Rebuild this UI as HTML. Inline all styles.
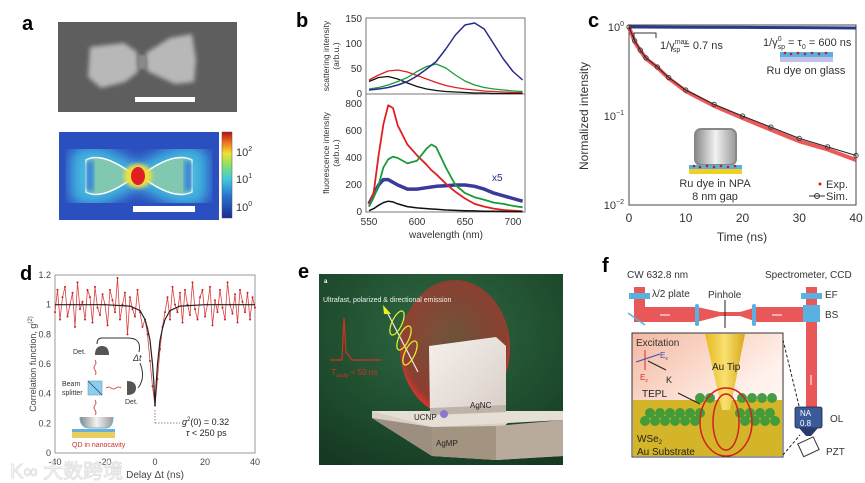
<!DOCTYPE html>
<html><head><meta charset="utf-8"><style>
html,body{margin:0;padding:0;background:#fff;}
svg{display:block;font-family:"Liberation Sans","Noto Sans CJK SC",sans-serif;}
</style></head><body>
<svg id="fig" width="865" height="483" viewBox="0 0 865 483" xmlns="http://www.w3.org/2000/svg">
<defs>
 <filter id="blur1"><feGaussianBlur stdDeviation="1.2"/></filter>
 <filter id="blur2"><feGaussianBlur stdDeviation="2"/></filter>
 <filter id="blur4"><feGaussianBlur stdDeviation="4"/></filter>
 <filter id="blur6"><feGaussianBlur stdDeviation="6"/></filter>
 <linearGradient id="cbar" x1="0" y1="1" x2="0" y2="0">
  <stop offset="0" stop-color="#1a2a90"/><stop offset="0.25" stop-color="#2a70d0"/><stop offset="0.45" stop-color="#40c8e0"/><stop offset="0.6" stop-color="#80e070"/><stop offset="0.75" stop-color="#f0e030"/><stop offset="0.88" stop-color="#f07020"/><stop offset="1" stop-color="#b01010"/>
 </linearGradient>
 <radialGradient id="egreen" cx="0.5" cy="0.3" r="0.8"><stop offset="0" stop-color="#2f6a42"/><stop offset="1" stop-color="#153a22"/></radialGradient>
 <radialGradient id="ered" cx="0.5" cy="0.45" r="0.55"><stop offset="0" stop-color="#e03030" stop-opacity="0.35"/><stop offset="0.85" stop-color="#e02a2a" stop-opacity="0.55"/><stop offset="1" stop-color="#ff3030" stop-opacity="0.9"/></radialGradient>
 <linearGradient id="cube" x1="0" y1="0" x2="1" y2="1"><stop offset="0" stop-color="#f6f0ec"/><stop offset="1" stop-color="#d8cec7"/></linearGradient>
 <linearGradient id="tip" x1="0" y1="0" x2="1" y2="0"><stop offset="0" stop-color="#e8b820"/><stop offset="0.5" stop-color="#f8e070"/><stop offset="1" stop-color="#d8a818"/></linearGradient>
 <linearGradient id="pink" x1="0" y1="0" x2="1" y2="1"><stop offset="0" stop-color="#f4b8a0"/><stop offset="0.6" stop-color="#fff0ea"/><stop offset="1" stop-color="#ffffff"/></linearGradient>
 <linearGradient id="nanogrd" x1="0" y1="0" x2="1" y2="0"><stop offset="0" stop-color="#888"/><stop offset="0.5" stop-color="#f2f2f2"/><stop offset="1" stop-color="#999"/></linearGradient>
</defs>

<!-- ========== Panel a ========== -->
<g>
 <text x="22" y="30" font-size="20" font-weight="bold">a</text>
 <g>
  <rect x="58" y="22" width="179" height="90" fill="#5e5e5e"/>
  <polygon points="90,47 124,43 137,52 138,72 125,82 101,88 88,77" fill="#b8b8b8" filter="url(#blur2)"/>
  <polygon points="146,53 170,38 192,34 196,60 194,82 175,84 147,71" fill="#b8b8b8" filter="url(#blur2)"/>
  <rect x="138" y="55" width="8" height="14" fill="#8a8a8a" filter="url(#blur1)"/>
  <rect x="135" y="97" width="60" height="5" fill="#fff"/>
 </g>
 <g>
  <rect x="59" y="132" width="160" height="88" fill="#2c4fbf"/>
  <path d="M78,158 Q92,146 125,166 L138,172 L151,166 Q185,146 200,158 L200,194 Q185,206 151,186 L138,180 L125,186 Q92,206 78,194Z" fill="#50c8d8" stroke="#40b0e0" stroke-width="16" filter="url(#blur6)"/>
  <path d="M86,160 Q100,152 127,170 L138,176 L149,170 Q176,152 192,160 L192,192 Q176,200 149,182 L138,176 L127,182 Q100,200 86,192Z" fill="#80c8b0" stroke="#fff" stroke-width="1.5"/>
  <path d="M86,162 L86,190 L94,192 L94,160Z" fill="#3a8ad8" filter="url(#blur2)"/>
  <path d="M192,162 L192,190 L184,192 L184,160Z" fill="#3a8ad8" filter="url(#blur2)"/>
  <ellipse cx="138" cy="176" rx="14" ry="12" fill="#f0e040" filter="url(#blur2)"/>
  <ellipse cx="138" cy="176" rx="7" ry="9" fill="#e02020"/>
  <rect x="133" y="206" width="62" height="6" fill="#fff"/>
 </g>
 <g>
  <rect x="222" y="132" width="10" height="86" fill="url(#cbar)" stroke="#555" stroke-width="0.5"/>
  <text x="236" y="156" font-size="11" fill="#333">10<tspan font-size="7" dy="-5">2</tspan></text>
  <text x="236" y="183" font-size="11" fill="#333">10<tspan font-size="7" dy="-5">1</tspan></text>
  <text x="236" y="211" font-size="11" fill="#333">10<tspan font-size="7" dy="-5">0</tspan></text>
 </g>
</g>

<!-- ========== Panel b ========== -->
<g>
 <text x="296" y="27" font-size="20" font-weight="bold">b</text>
 <rect x="366" y="18" width="159" height="194" fill="none" stroke="#777" stroke-width="1"/>
 <line x1="366" y1="94" x2="525" y2="94" stroke="#777" stroke-width="1"/>
 <g font-size="10" fill="#333" text-anchor="end">
  <text x="362" y="22">150</text><text x="362" y="47">100</text><text x="362" y="72">50</text><text x="362" y="97">0</text>
  <text x="362" y="107">800</text><text x="362" y="134">600</text><text x="362" y="161">400</text><text x="362" y="188">200</text><text x="362" y="215">0</text>
 </g>
 <g id="bxt" font-size="10" fill="#333" text-anchor="middle"></g>
 <text transform="translate(329,56) rotate(-90)" font-size="8.5" fill="#333" text-anchor="middle">scattering intensity</text>
 <text transform="translate(339,56) rotate(-90)" font-size="8.5" fill="#333" text-anchor="middle">(arb.u.)</text>
 <text transform="translate(329,153) rotate(-90)" font-size="8.5" fill="#333" text-anchor="middle">fluorescence intensity</text>
 <text transform="translate(339,153) rotate(-90)" font-size="8.5" fill="#333" text-anchor="middle">(arb.u.)</text>
 <text x="446" y="238" font-size="10" fill="#333" text-anchor="middle">wavelength (nm)</text>
 <text x="492" y="181" font-size="10" fill="#2a2a8a">x5</text>
 <g id="bplot"></g>
</g>

<!-- ========== Panel c ========== -->
<g>
 <text x="588" y="27" font-size="20" font-weight="bold">c</text>
 <rect x="629" y="25" width="227" height="180" fill="none" stroke="#444" stroke-width="1"/>
 <g font-size="11" fill="#333" text-anchor="end">
  <text x="624" y="31">10<tspan font-size="7" dy="-5">0</tspan></text>
  <text x="624" y="120">10<tspan font-size="7" dy="-5">−1</tspan></text>
  <text x="624" y="209">10<tspan font-size="7" dy="-5">−2</tspan></text>
 </g>
 <g id="cxt" font-size="12" fill="#333" text-anchor="middle"></g>
 <text x="742" y="241" font-size="12" fill="#333" text-anchor="middle">Time (ns)</text>
 <text transform="translate(588,116) rotate(-90)" font-size="12" fill="#333" text-anchor="middle">Normalized intensity</text>
 <g id="cplot"></g>
 <path d="M634,38 L634,33 L656,33 L656,38" fill="none" stroke="#333" stroke-width="1"/>
 <text x="660" y="49" font-size="11" fill="#333">1/γ<tspan font-size="7" dy="-5">max</tspan><tspan font-size="7" dx="-15" dy="8">sp</tspan><tspan dy="-3"> = 0.7 ns</tspan></text>
 <text x="763" y="46" font-size="11" fill="#333">1/γ<tspan font-size="7" dy="-5">0</tspan><tspan font-size="7" dx="-4" dy="8">sp</tspan><tspan dy="-3"> = τ</tspan><tspan font-size="7" dy="3">0</tspan><tspan dy="-3"> = 600 ns</tspan></text>
 <g>
  <rect x="780" y="52" width="53" height="5" fill="#5ab0e0"/><rect x="780" y="57" width="53" height="5" fill="#c0c0e8"/>
  <g fill="#c02020"><circle cx="785" cy="53" r="1.3"/><circle cx="791" cy="54" r="1.3"/><circle cx="798" cy="53" r="1.3"/><circle cx="805" cy="54" r="1.3"/><circle cx="812" cy="53" r="1.3"/><circle cx="819" cy="54" r="1.3"/><circle cx="826" cy="53" r="1.3"/></g>
  <text x="806" y="74" font-size="11" fill="#333" text-anchor="middle">Ru dye on glass</text>
 </g>
 <g>
  <rect x="695" y="129" width="41" height="36" rx="6" fill="url(#nanogrd)" stroke="#888" stroke-width="2"/>
  <rect x="689" y="165" width="53" height="4" fill="#5ab0e0"/><rect x="689" y="169" width="53" height="5" fill="#f0d020"/>
  <g fill="#c02020"><circle cx="694" cy="166" r="1.3"/><circle cx="700" cy="167" r="1.3"/><circle cx="707" cy="166" r="1.3"/><circle cx="714" cy="167" r="1.3"/><circle cx="721" cy="166" r="1.3"/><circle cx="728" cy="167" r="1.3"/><circle cx="735" cy="166" r="1.3"/></g>
  <text x="715" y="187" font-size="11" fill="#333" text-anchor="middle">Ru dye in NPA</text>
  <text x="715" y="200" font-size="11" fill="#333" text-anchor="middle">8 nm gap</text>
 </g>
 <g>
  <circle cx="820" cy="184" r="1.5" fill="#e02020"/><text x="826" y="188" font-size="11" fill="#333">Exp.</text>
  <line x1="809" y1="196" x2="825" y2="196" stroke="#333"/><circle cx="817" cy="196" r="2.5" fill="none" stroke="#333"/><text x="826" y="200" font-size="11" fill="#333">Sim.</text>
 </g>
</g>

<!-- ========== Panel d ========== -->
<g>
 <text x="20" y="280" font-size="20" font-weight="bold">d</text>
 <rect x="55" y="275" width="200" height="178" fill="none" stroke="#999" stroke-width="1"/>
 <g id="dyt" font-size="9" fill="#444" text-anchor="end"></g>
 <g id="dxt" font-size="9" fill="#444" text-anchor="middle"></g>
 <text x="155" y="478" font-size="10" fill="#444" text-anchor="middle">Delay Δt (ns)</text>
 <text transform="translate(36,364) rotate(-90)" font-size="9" fill="#444" text-anchor="middle">Correlation function, g<tspan font-size="6" dy="-4">(2)</tspan></text>
 <g id="dplot"></g>
 <g>
  <path d="M97,344 Q97,338 102,338 L128,338 Q142,338 139,352" fill="none" stroke="#333" stroke-width="1"/>
  <path d="M95,355 Q95,346 102,346 Q109,346 109,355Z" fill="#555"/>
  <text x="73" y="354" font-size="7" fill="#333">Det.</text>
  <text x="133" y="361" font-size="9" fill="#333" font-style="italic">Δt</text>
  <path d="M140,363 Q146,378 138,388" fill="none" stroke="#333" stroke-width="1"/>
  <rect x="88" y="381" width="14" height="14" fill="#8ad0ee" stroke="#6090b0" stroke-width="0.5"/>
  <line x1="88" y1="381" x2="102" y2="395" stroke="#335" stroke-width="0.7"/>
  <text x="62" y="386" font-size="7" fill="#333">Beam</text><text x="62" y="395" font-size="7" fill="#333">splitter</text>
  <path d="M127,381 Q136,381 136,388 Q136,395 127,395Z" fill="#555"/>
  <text x="125" y="404" font-size="7" fill="#333">Det.</text>
  <path d="M95,360 q2,3 0,5 q-2,3 0,5 q2,3 0,5" fill="none" stroke="#d03030" stroke-width="0.8"/>
  <path d="M95,400 q2,3 0,5 q-2,3 0,5 q2,3 0,5" fill="none" stroke="#d03030" stroke-width="0.8"/>
  <path d="M106,388 q3,-2 5,0 q3,2 5,0 q3,-2 5,0" fill="none" stroke="#d03030" stroke-width="0.8"/>
  <path d="M80,417 Q80,428 90,428 L105,428 Q113,428 113,417" fill="url(#nanogrd)" stroke="#6ab0d8" stroke-width="1"/>
  <rect x="72" y="429" width="43" height="3" fill="#6ab0d8"/><rect x="72" y="432" width="43" height="6" fill="#e8d060"/>
  <text x="72" y="447" font-size="7" fill="#d03030">QD in nanocavity</text>
 </g>
 <line x1="155" y1="410" x2="155" y2="423" stroke="#666" stroke-dasharray="1.5,1.5" stroke-width="0.8"/>
 <line x1="155" y1="423" x2="180" y2="423" stroke="#666" stroke-dasharray="1.5,1.5" stroke-width="0.8"/>
 <text x="182" y="425" font-size="9" fill="#222"><tspan font-style="italic">g</tspan><tspan font-size="6" dy="-4">2</tspan><tspan dy="4">(0) = 0.32</tspan></text>
 <text x="186" y="436" font-size="9" fill="#222"><tspan font-style="italic">τ</tspan> &lt; 250 ps</text>
</g>

<!-- watermark -->
<text x="10" y="478" font-size="20" fill="none" stroke="#e2e2e2" stroke-width="1">K∞ 大数跨境</text>

<!-- ========== Panel e ========== -->
<g>
 <text x="298" y="278" font-size="20" font-weight="bold">e</text>
 <rect x="319" y="274" width="244" height="191" fill="url(#egreen)"/>
 <text x="324" y="283" font-size="6" fill="#fff" font-weight="bold">a</text>
 <ellipse cx="455" cy="348" rx="55" ry="68" fill="url(#ered)"/>
 <text x="323" y="302" font-size="7" fill="#f0f0f0">Ultrafast, polarized &amp; directional emission</text>
 <path d="M330,360 L342,360 L344,318 L346,352 L352,360 L381,360" fill="none" stroke="#d83020" stroke-width="1.2"/>
 <text x="331" y="375" font-size="8" fill="#d83020" font-style="italic">T<tspan font-size="5" dy="2">cavity</tspan><tspan dy="-2" font-style="normal"> &lt; 50 ns</tspan></text>
 <line x1="418" y1="372" x2="386" y2="310" stroke="#eee" stroke-width="1.2"/>
 <polygon points="383,305 391,314 384,314" fill="#f0f020"/>
 <ellipse cx="397" cy="323" rx="5" ry="13" transform="rotate(25 397 323)" fill="none" stroke="#e8e830" stroke-width="1.3"/>
 <ellipse cx="404" cy="338" rx="5" ry="13" transform="rotate(25 404 338)" fill="none" stroke="#e8e830" stroke-width="1.3"/>
 <ellipse cx="410" cy="353" rx="5" ry="13" transform="rotate(25 410 353)" fill="none" stroke="#e8e830" stroke-width="1.3"/>
 <polygon points="372,411 563,411 563,420 510,421 496,434 563,430 563,456 496,460 432,456 372,418" fill="#d8d0c4"/>
 <polygon points="372,418 432,427 432,456" fill="#9c8f80"/>
 <polygon points="432,427 496,426 496,460 432,456" fill="#a39482"/>
 <polygon points="496,426 563,420 563,456 496,460" fill="#b8ab9c"/>
 <polygon points="372,411 563,411 563,420 432,427" fill="#e6dfd6"/>
 <polygon points="429,346 496,337 506,346 506,412 430,415" fill="url(#cube)"/>
 <polygon points="430,408 506,405 506,412 430,415" fill="#bfb2a8"/>
 <circle cx="444" cy="414" r="4" fill="#8a78d0"/>
 <text x="470" y="408" font-size="8" fill="#222">AgNC</text>
 <text x="414" y="420" font-size="8" fill="#222">UCNP</text>
 <text x="436" y="446" font-size="8" fill="#222">AgMP</text>
</g>

<!-- ========== Panel f ========== -->
<g>
 <text x="602" y="272" font-size="20" font-weight="bold">f</text>
 <text x="627" y="278" font-size="10" fill="#333">CW 632.8 nm</text>
 <text x="765" y="278" font-size="10" fill="#333">Spectrometer, CCD</text>
 <g>
  <rect x="634" y="287" width="11" height="35" fill="#e85858"/>
  <polygon points="634,307 697,307 720,312 740,312 757,307 815,307 815,322 757,322 740,316 720,316 697,322 634,322" fill="#e85858"/>
  <rect x="806" y="287" width="11" height="120" fill="#e85858"/>
  <rect x="629" y="293" width="21" height="6" fill="#5ab0e0"/>
  <line x1="628" y1="313" x2="645" y2="325" stroke="#5ab0e0" stroke-width="1.5"/>
  <rect x="695" y="304" width="4" height="22" rx="2" fill="#5ab0e0"/>
  <rect x="752" y="304" width="4" height="22" rx="2" fill="#5ab0e0"/>
  <line x1="725" y1="300" x2="725" y2="328" stroke="#222" stroke-width="1"/>
  <rect x="801" y="293" width="21" height="6" fill="#5ab0e0"/>
  <rect x="803" y="305" width="17" height="17" fill="#5ab0e0"/>
  <line x1="660" y1="315" x2="670" y2="315" stroke="#fff"/><line x1="772" y1="315" x2="782" y2="315" stroke="#fff"/>
  <line x1="811" y1="375" x2="811" y2="385" stroke="#fff"/>
 </g>
 <text x="652" y="297" font-size="10" fill="#333">λ/2 plate</text>
 <text x="708" y="298" font-size="10" fill="#333">Pinhole</text>
 <text x="825" y="298" font-size="10" fill="#333">EF</text>
 <text x="825" y="318" font-size="10" fill="#333">BS</text>
 <g>
  <rect x="632" y="333" width="151" height="124" fill="url(#pink)" stroke="#333" stroke-width="1"/>
  <rect x="633" y="400" width="149" height="56" fill="#d4b428"/>
  <polygon points="705,334 745,334 730,410 722,410" fill="url(#tip)"/>
  <g fill="#3c9a3c" opacity="0.95">
   <circle cx="700" cy="398" r="5"/><circle cx="710" cy="398" r="5"/><circle cx="742" cy="398" r="5"/><circle cx="752" cy="398" r="5"/><circle cx="762" cy="398" r="5"/><circle cx="772" cy="398" r="5"/>
   <circle cx="650" cy="413" r="5"/><circle cx="660" cy="413" r="5"/><circle cx="670" cy="413" r="5"/><circle cx="680" cy="413" r="5"/><circle cx="690" cy="413" r="5"/><circle cx="700" cy="413" r="5"/><circle cx="740" cy="413" r="5"/><circle cx="750" cy="413" r="5"/><circle cx="760" cy="413" r="5"/><circle cx="770" cy="413" r="5"/>
   <circle cx="645" cy="421" r="5"/><circle cx="655" cy="421" r="5"/><circle cx="665" cy="421" r="5"/><circle cx="675" cy="421" r="5"/><circle cx="685" cy="421" r="5"/><circle cx="695" cy="421" r="5"/><circle cx="745" cy="421" r="5"/><circle cx="755" cy="421" r="5"/><circle cx="765" cy="421" r="5"/><circle cx="775" cy="421" r="5"/>
  </g>
  <ellipse cx="726" cy="422" rx="13" ry="28" fill="none" stroke="#d02020" stroke-width="1.5"/>
  <ellipse cx="726" cy="422" rx="26" ry="34" fill="none" stroke="#d02020" stroke-width="1.5"/>
  <text x="636" y="346" font-size="10" fill="#333">Excitation</text>
  <text x="712" y="370" font-size="10" fill="#222">Au Tip</text>
  <text x="642" y="397" font-size="10" fill="#222">TEPL</text>
  <text x="666" y="383" font-size="9" fill="#222">K</text>
  <line x1="678" y1="393" x2="700" y2="404" stroke="#222"/>
  <line x1="645" y1="350" x2="645" y2="370" stroke="#d03030"/><line x1="636" y1="362" x2="660" y2="354" stroke="#3a4ab0"/>
  <line x1="648" y1="361" x2="666" y2="370" stroke="#222"/>
  <text x="660" y="358" font-size="8" fill="#3a4ab0">E<tspan font-size="5" dy="2">x</tspan></text>
  <text x="640" y="380" font-size="8" fill="#d03030">E<tspan font-size="5" dy="2">z</tspan></text>
  <text x="637" y="442" font-size="10" fill="#222">WSe<tspan font-size="6" dy="2">2</tspan></text>
  <text x="637" y="455" font-size="10" fill="#222">Au Substrate</text>
 </g>
 <line x1="783" y1="340" x2="800" y2="410" stroke="#222" stroke-dasharray="3,2"/>
 <line x1="783" y1="455" x2="800" y2="435" stroke="#222" stroke-dasharray="3,2"/>
 <g>
  <rect x="795" y="407" width="27" height="21" rx="2" fill="#3a5a9a" stroke="#223" stroke-width="0.8"/>
  <polygon points="799,428 818,428 811,436 806,436" fill="#2a3a6a"/>
  <text x="800" y="416" font-size="8" fill="#fff">NA</text><text x="800" y="426" font-size="8" fill="#fff">0.8</text>
 </g>
 <text x="830" y="422" font-size="10" fill="#333">OL</text>
 <rect x="800" y="440" width="17" height="14" fill="none" stroke="#333" transform="rotate(-25 808 447)"/>
 <text x="826" y="455" font-size="10" fill="#333">PZT</text>
</g>
</svg>

<script>
// ---------- Panel b data ----------
const bWave = [550,560,570,580,590,600,610,620,630,640,650,660,670,680,690,700,710];
const scatBlack = [25,33,35,30,22,15,10,7,5,4,3,2,2,1,1,1,1];
const scatRed = [28,38,46,48,44,37,30,23,17,13,10,8,6,5,4,3,3];
const scatGreen = [10,13,18,25,33,45,55,60,52,38,26,18,13,10,8,6,5];
const scatBlue = [8,10,13,18,25,36,50,65,90,118,138,142,130,100,70,45,28];
const fluWave = [550,555,560,565,570,575,580,590,600,610,615,620,630,640,650,660,670,680,690,700,710];
const fluRed = [40,150,420,650,790,770,640,500,420,350,310,280,210,150,100,60,40,25,15,10,5];
const fluGreen = [40,110,200,330,390,410,400,360,380,470,500,480,330,200,140,110,90,70,60,45,35];
const fluBlue = [60,130,200,240,240,220,200,170,170,180,185,190,195,200,200,190,170,140,120,100,80];
const fluBlack = [10,25,50,70,80,75,60,40,30,25,22,20,15,12,10,8,6,5,4,3,3];
const bTicks = [550,600,650,700];

// ---------- Panel c data ----------
const cTime = [0,1,2,3,5,7,10,15,20,25,30,35,40];
const cSim = [1,0.7,0.55,0.45,0.355,0.27,0.196,0.135,0.10,0.075,0.056,0.045,0.036];
const cExp = [1,0.68,0.54,0.44,0.35,0.265,0.19,0.13,0.095,0.07,0.052,0.042,0.032];
const cGlassT = [0,10,20,30,40];
const cGlass = [1,0.995,0.99,0.985,0.975];
const cTicks = [0,10,20,30,40];

// ---------- Panel d data ----------
const dG2 = [0.95,1.1,0.9,1.05,1.12,0.92,1.0,1.08,0.85,1.15,0.97,1.02,0.9,1.1,1.05,0.88,1.12,0.98,0.93,1.07,1.0,0.86,1.1,1.03,0.95,1.18,0.9,1.0,1.08,0.8,1.05,0.97,0.92,1.1,0.95,0.85,0.9,0.8,0.62,0.45,0.32,0.5,0.7,0.85,0.95,1.05,0.9,1.12,1.0,0.95,1.08,0.88,1.1,1.0,0.93,1.15,0.97,0.9,1.05,1.1,0.92,1.0,1.12,0.86,1.03,0.95,1.1,0.98,0.9,1.15,1.0,0.94,1.07,0.88,1.1,1.02,0.95,1.08,0.9,1.05,0.98];
const fitT = [-40,-20,-10,-6,-4,-3,-2,-1,-0.5,0,0.5,1,2,3,4,6,10,20,40];
const fitG = [1,1,0.99,0.96,0.9,0.84,0.76,0.6,0.48,0.32,0.48,0.6,0.76,0.84,0.9,0.96,0.99,1,1];
const dYTicks = [0,0.2,0.4,0.6,0.8,1,1.2];
const dXTicks = [-40,-20,0,20,40];

const NS = 'http://www.w3.org/2000/svg';
function make(tag, parent){ const el = document.createElementNS(NS, tag); parent.appendChild(el); return el; }

const bx = w => 369 + (w - 550) * 0.96;
const byTop = v => 94 - v * (75 / 150);
const byBot = v => 212 - v * (108 / 800);
const cx = t => 629 + t * (227 / 40);
const cy = v => 27 - Math.log10(v) * 89;
const dx = t => 155 + t * 2.5;
const dy = v => 453 - v * (178 / 1.2);

function poly(parent, xs, ys, fx, fy, color, width, name){
  const p = make('polyline', parent);
  
  
  p.setAttribute('points', xs.map((x,i)=>fx(x).toFixed(1)+','+fy(ys[i]).toFixed(1)).join(' '));
  p.setAttribute('fill','none'); p.setAttribute('stroke',color); p.setAttribute('stroke-width',width);
  p.setAttribute('stroke-linejoin','round');
  return p;
}

const bg = document.getElementById('bplot');
poly(bg, bWave, scatBlack, bx, byTop, '#111', 1.3, 'scattering-black');
poly(bg, bWave, scatRed, bx, byTop, '#e02020', 1.3, 'scattering-red');
poly(bg, bWave, scatGreen, bx, byTop, '#1a9a3a', 1.3, 'scattering-green');
poly(bg, bWave, scatBlue, bx, byTop, '#2a2a8a', 1.5, 'scattering-blue');
poly(bg, fluWave, fluBlue, bx, byBot, '#3a3a9a', 3.5, 'fluorescence-blue');
poly(bg, fluWave, fluRed, bx, byBot, '#e02020', 1.8, 'fluorescence-red');
poly(bg, fluWave, fluGreen, bx, byBot, '#1a9a3a', 1.8, 'fluorescence-green');
poly(bg, fluWave, fluBlack, bx, byBot, '#111', 1.5, 'fluorescence-black');
const bxt = document.getElementById('bxt');
bTicks.forEach(t=>{
  const tx = make('text', bxt);
  
  
  tx.setAttribute('x', bx(t)); tx.setAttribute('y', 225); tx.textContent = t;
});

const cg = document.getElementById('cplot');
poly(cg, cGlassT, cGlass, cx, cy, '#2a3a8a', 3, 'glass-decay');
poly(cg, cTime, cExp, cx, cy, '#e83030', 4, 'npa-exp-decay').setAttribute('stroke-opacity','0.8');
poly(cg, cTime, cSim, cx, cy, '#222', 1, 'npa-sim-decay');
cTime.forEach((t,i)=>{
  const c = make('circle', cg);
  
  
  c.setAttribute('cx', cx(t)); c.setAttribute('cy', cy(cSim[i])); c.setAttribute('r', 2.2);
  c.setAttribute('fill','none'); c.setAttribute('stroke','#333'); c.setAttribute('stroke-width','0.8');
});
const cxt = document.getElementById('cxt');
cTicks.forEach(t=>{
  const tx = make('text', cxt);
  
  
  tx.setAttribute('x', cx(t)); tx.setAttribute('y', 222); tx.textContent = t;
});

const dg = document.getElementById('dplot');
const dTimes = dG2.map((v,i)=> -40 + i * 80 / (dG2.length - 1));
poly(dg, dTimes, dG2, dx, dy, '#d84040', 0.8, 'g2-data-line');
dTimes.forEach((t,i)=>{
  const c = make('circle', dg);
  
  
  c.setAttribute('cx', dx(t)); c.setAttribute('cy', dy(dG2[i])); c.setAttribute('r', 1);
  c.setAttribute('fill','#c02020');
});
poly(dg, fitT, fitG, dx, dy, '#222', 1.2, 'g2-fit-line');
const dyt = document.getElementById('dyt');
dYTicks.forEach(v=>{
  const tx = make('text', dyt);
  
  
  tx.setAttribute('x', 51); tx.setAttribute('y', dy(v)+3); tx.textContent = v;
});
const dxt = document.getElementById('dxt');
dXTicks.forEach(v=>{
  const tx = make('text', dxt);
  
  
  tx.setAttribute('x', dx(v)); tx.setAttribute('y', 465); tx.textContent = v;
});
</script>
</body></html>
